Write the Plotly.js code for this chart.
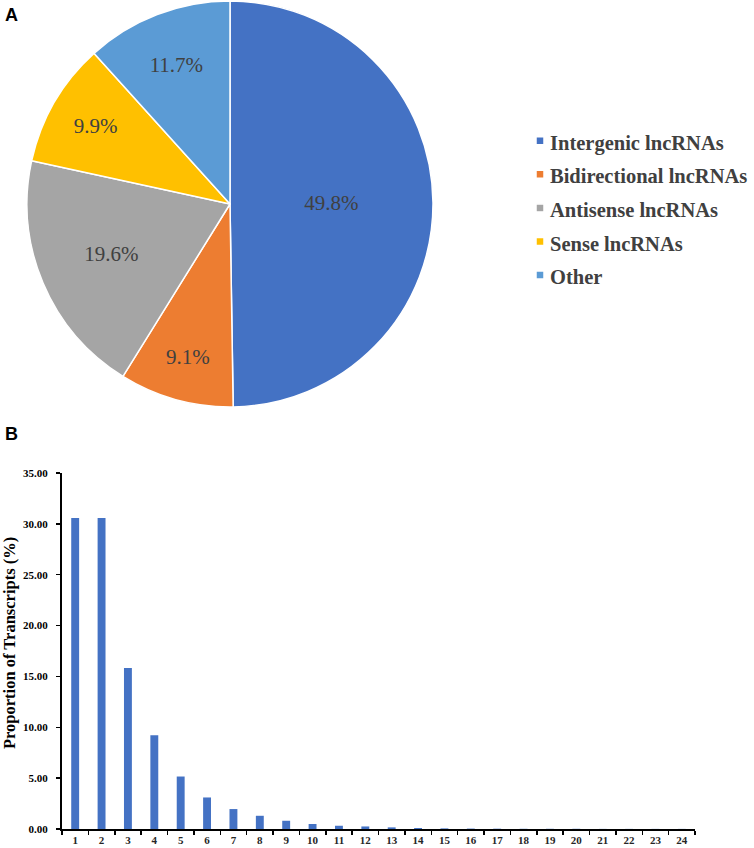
<!DOCTYPE html>
<html>
<head>
<meta charset="utf-8">
<script src="https://cdn.plot.ly/plotly-3.0.1.min.js"></script>
<style>
  html, body { margin: 0; padding: 0; background: #fff; overflow: hidden; }
  #chart { width: 754px; height: 848px; }
</style>
</head>
<body>
<div id="chart"></div>
<script>
// Panel A: lncRNA classes (percent of transcripts)
var classLabels = ['Intergenic lncRNAs', 'Bidirectional lncRNAs', 'Antisense lncRNAs', 'Sense lncRNAs', 'Other']
var classShares = [49.8, 9.1, 19.6, 9.9, 11.7]
var classColors = ['#4472C4', '#ED7D31', '#A5A5A5', '#FFC000', '#5B9BD5']

// Panel B: proportion of transcripts per category 1..24
var exonCounts = ['1', '2', '3', '4', '5', '6', '7', '8', '9', '10', '11', '12',
                  '13', '14', '15', '16', '17', '18', '19', '20', '21', '22', '23', '24']
var transcriptShare = [30.58, 30.58, 15.84, 9.21, 5.16, 3.10, 1.96, 1.30, 0.81, 0.49, 0.32, 0.25,
                       0.16, 0.10, 0.06, 0.04, 0.03, 0.02, 0.02, 0.02, 0.01, 0.01, 0.01, 0.01]

var W = 754, H = 848
// helpers to turn pixel positions into paper fractions
function px(x) { return x / W }
function py(y) { return 1 - y / H }

var serif = 'Liberation Serif, Times New Roman, serif'
var sans = 'Liberation Sans, Arial, sans-serif'

// legend rows are spaced from the legend font size, so the text itself is
// set a little smaller than the row height
var legendNames = classLabels.map(function (l) {
  return '<span style="font-size:20.5px">' + l + '</span>'
})

var pieTrace = {
  type: 'pie',
  labels: legendNames,
  values: classShares,
  sort: false,
  direction: 'clockwise',
  rotation: 0,
  marker: { colors: classColors, line: { color: '#ffffff', width: 1.5 } },
  texttemplate: '%{value:.1f}%',
  textposition: 'inside',
  insidetextorientation: 'horizontal',
  textfont: { family: serif, size: 21, color: '#404040' },
  hoverinfo: 'label+value',
  domain: { x: [px(27), px(433)], y: [py(408), py(0)] }
}

var barTrace = {
  type: 'bar',
  x: exonCounts,
  y: transcriptShare,
  marker: { color: '#4472C4' },
  showlegend: false,
  xaxis: 'x',
  yaxis: 'y'
}

var layout = {
  width: W,
  height: H,
  // the legend runs to the right edge; keep it from pushing the plot area
  margin: { l: 0, r: 0, t: 0, b: 0, autoexpand: false },
  paper_bgcolor: '#ffffff',
  plot_bgcolor: '#ffffff',
  bargap: 0.7,
  showlegend: true,
  legend: {
    x: px(510), xanchor: 'left',
    y: py(208), yanchor: 'middle',
    font: { family: serif, size: 23.5, color: '#404040', weight: 'bold' },
    bgcolor: 'rgba(0,0,0,0)'
  },
  xaxis: {
    type: 'category',
    domain: [px(62), px(695)],
    anchor: 'y',
    showline: true, linecolor: '#000', linewidth: 2,
    ticks: 'outside', tickson: 'boundaries', ticklen: 4, tickwidth: 1.5, tickcolor: '#000',
    tickfont: { family: serif, size: 11, color: '#262626', weight: 'bold' },
    showgrid: false, zeroline: false, automargin: false, fixedrange: true
  },
  yaxis: {
    domain: [py(829), py(473)],
    anchor: 'x',
    range: [0, 35],
    dtick: 5,
    tickformat: '.2f',
    showline: true, linecolor: '#000', linewidth: 2,
    ticks: 'outside', ticklen: 4, tickwidth: 1.5, tickcolor: '#000',
    ticklabelstandoff: 6,
    tickfont: { family: serif, size: 11, color: '#000', weight: 'bold' },
    showgrid: false, zeroline: false, automargin: false, fixedrange: true
  },
  annotations: [
    { text: 'A', x: px(3), y: py(3), xref: 'paper', yref: 'paper', xanchor: 'left', yanchor: 'top',
      showarrow: false, font: { family: sans, size: 18, color: '#000', weight: 'bold' } },
    { text: 'B', x: px(3), y: py(422), xref: 'paper', yref: 'paper', xanchor: 'left', yanchor: 'top',
      showarrow: false, font: { family: sans, size: 18, color: '#000', weight: 'bold' } },
    { text: 'Proportion of Transcripts (%)', x: px(9), y: py(643), xref: 'paper', yref: 'paper',
      xanchor: 'center', yanchor: 'middle', textangle: -90, showarrow: false,
      font: { family: serif, size: 16.5, color: '#000', weight: 'bold' } }
  ]
}

Plotly.newPlot('chart', [pieTrace, barTrace], layout, { displayModeBar: false, staticPlot: true })
  .then(function () {
    // smaller legend squares, sitting closer to the text like the original
    document.querySelectorAll('#chart path.legendpie').forEach(function (p) {
      p.setAttribute('d', 'M14,4H6V-4H14Z')
    })
  })
</script>
</body>
</html>
